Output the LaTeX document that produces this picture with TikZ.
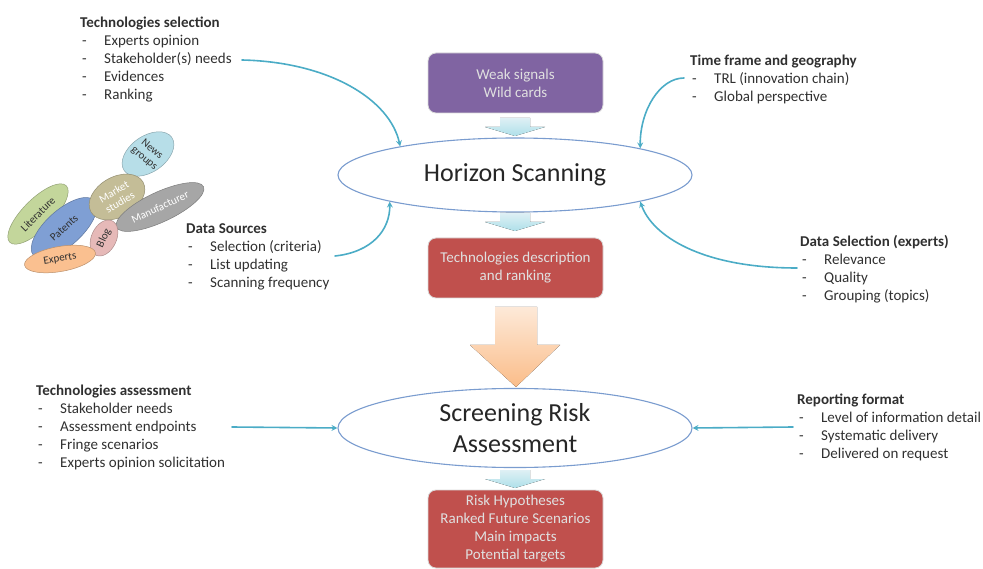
\documentclass[tikz,border=0pt]{standalone}
\usepackage{fontspec}
\setmainfont{Carlito}
\usetikzlibrary{shapes.geometric}
\definecolor{txt}{HTML}{303030}
\definecolor{boxpurple}{HTML}{8064A2}
\definecolor{boxred}{HTML}{C0504D}
\definecolor{ellblue}{HTML}{7A9CCF}
\definecolor{feedteal}{HTML}{4BACC6}
\definecolor{litgreen}{HTML}{C3D69B}
\definecolor{patblue}{HTML}{7F9FD4}
\definecolor{exporange}{HTML}{FAC090}
\definecolor{blogpink}{HTML}{E6B9B8}
\definecolor{mkttan}{HTML}{C4BD97}
\definecolor{newsblue}{HTML}{B7DEE8}
\definecolor{manugray}{HTML}{A6A6A6}
\newcommand{\dashitem}[1]{\makebox[24pt][l]{\hspace{2pt}-}#1}

\begin{document}
\begin{tikzpicture}[x=1pt,y=-1pt,line join=round,line cap=round,>=stealth,
    font=\fontsize{15}{18}\selectfont,text=txt,
    listblock/.style={anchor=north west,align=left,inner sep=0pt},
    flowbox/.style={rounded corners=8pt,minimum width=175pt,draw=black!15,line width=0.8pt,
        text=white!88!black,align=center},
    scan/.style={ellipse,draw=ellblue,line width=1.1pt,fill=white,minimum width=354pt,
        minimum height=74pt,align=center,text=black!85,font=\fontsize{26}{31}\selectfont},
    feed/.style={->,draw=feedteal,line width=1.6pt},
    bubble/.style={ellipse,fill=#1,draw=#1!75!black,line width=0.5pt,inner sep=0pt,
        align=center,font=\fontsize{11}{12}\selectfont}]
    \useasboundingbox (0,0) rectangle (983,569);

    % data sources bubbles
    \node[bubble=litgreen,minimum width=80pt,minimum height=30pt,rotate=45] (lit) at (38,214) {Literature};
    \node[bubble=patblue,minimum width=82pt,minimum height=36pt,rotate=42] (pat) at (64,228) {Patents};
    \node[bubble=newsblue,minimum width=58pt,minimum height=36pt,rotate=35] (news) at (148,154) {};
    \node[rotate=-40,align=center,inner sep=0pt,font=\fontsize{11}{12}\selectfont] (news-label) at (news.center) {News\\groups};
    \node[bubble=mkttan,minimum width=60pt,minimum height=40pt,rotate=30,text=white] (mkt) at (117,197) {Market\\studies};
    \node[bubble=manugray,minimum width=96pt,minimum height=30pt,rotate=25,text=white] (manu) at (160,207) {Manufacturer};
    \node[bubble=blogpink,minimum width=38pt,minimum height=25pt,rotate=65] (blog) at (104,238) {Blog};
    \node[bubble=exporange,minimum width=72pt,minimum height=25pt,rotate=10] (expt) at (60,259) {Experts};

    % main flow
    \node[flowbox,fill=boxpurple,minimum height=60pt] (weak) at (515.5,83) {Weak signals\\Wild cards};
    \node[scan] (hs) at (515,175) {Horizon Scanning};
    \node[flowbox,fill=boxred,minimum height=60pt] (techdesc) at (515.5,268) {Technologies description\\and ranking};
    \node[scan] (sra) at (515,428) {Screening Risk\\Assessment};
    \node[flowbox,fill=boxred,minimum height=78pt] (risk) at (515.5,529) {Risk Hypotheses\\Ranked Future Scenarios\\Main impacts\\Potential targets};

    \foreach \t in {118,213,470}
        \fill[top color=newsblue!45,bottom color=newsblue!95!cyan] (500,\t) -- (530,\t) -- (530,\t+9)
            -- (545,\t+9) -- (515,\t+18) -- (485,\t+9) -- (500,\t+9) -- cycle;
    \fill[top color=exporange!35,bottom color=exporange!95!orange] (495,307) -- (537,307) -- (537,345)
        -- (560,345) -- (516,387) -- (470,345) -- (495,345) -- cycle;

    % text blocks
    \node[listblock] (tsel) at (80,17) {\textbf{Technologies selection}\\
        \dashitem{Experts opinion}\\ \dashitem{Stakeholder(s) needs}\\ \dashitem{Evidences}\\ \dashitem{Ranking}};
    \node[listblock] (tfg) at (690,55) {\textbf{Time frame and geography}\\
        \dashitem{TRL (innovation chain)}\\ \dashitem{Global perspective}};
    \node[listblock] (dsrc) at (186,223) {\textbf{Data Sources}\\
        \dashitem{Selection (criteria)}\\ \dashitem{List updating}\\ \dashitem{Scanning frequency}};
    \node[listblock] (dsel) at (800,235) {\textbf{Data Selection (experts)}\\
        \dashitem{Relevance}\\ \dashitem{Quality}\\ \dashitem{Grouping (topics)}};
    \node[listblock] (tass) at (36,385) {\textbf{Technologies assessment}\\
        \dashitem{Stakeholder needs}\\ \dashitem{Assessment endpoints}\\ \dashitem{Fringe scenarios}\\
        \dashitem{Experts opinion solicitation}};
    \node[listblock] (rfmt) at (797,394) {\textbf{Reporting format}\\
        \dashitem{Level of information detail}\\ \dashitem{Systematic delivery}\\ \dashitem{Delivered on request}};

    % feeding arrows
    \coordinate (tsel-end) at (242,60);
    \coordinate (tfg-start) at (684,78);
    \coordinate (dsel-start) at (797,268);
    \coordinate (dsrc-end) at (335,256);
    \coordinate (tass-end) at (232,427);
    \coordinate (rfmt-start) at (793,427);
    \draw[feed] (tsel-end) .. controls (330,62) and (390,100) .. (hs.166);
    \draw[feed] (tfg-start) .. controls (660,78) and (640,110) .. (hs.12);
    \draw[feed] (dsel-start) .. controls (700,268) and (652,235) .. (hs.-12);
    \draw[feed] (dsrc-end) .. controls (372,252) and (390,230) .. (hs.192);
    \draw[feed] (tass-end) -- (sra.west);
    \draw[feed] (rfmt-start) -- (sra.east);
\end{tikzpicture}
\end{document}
